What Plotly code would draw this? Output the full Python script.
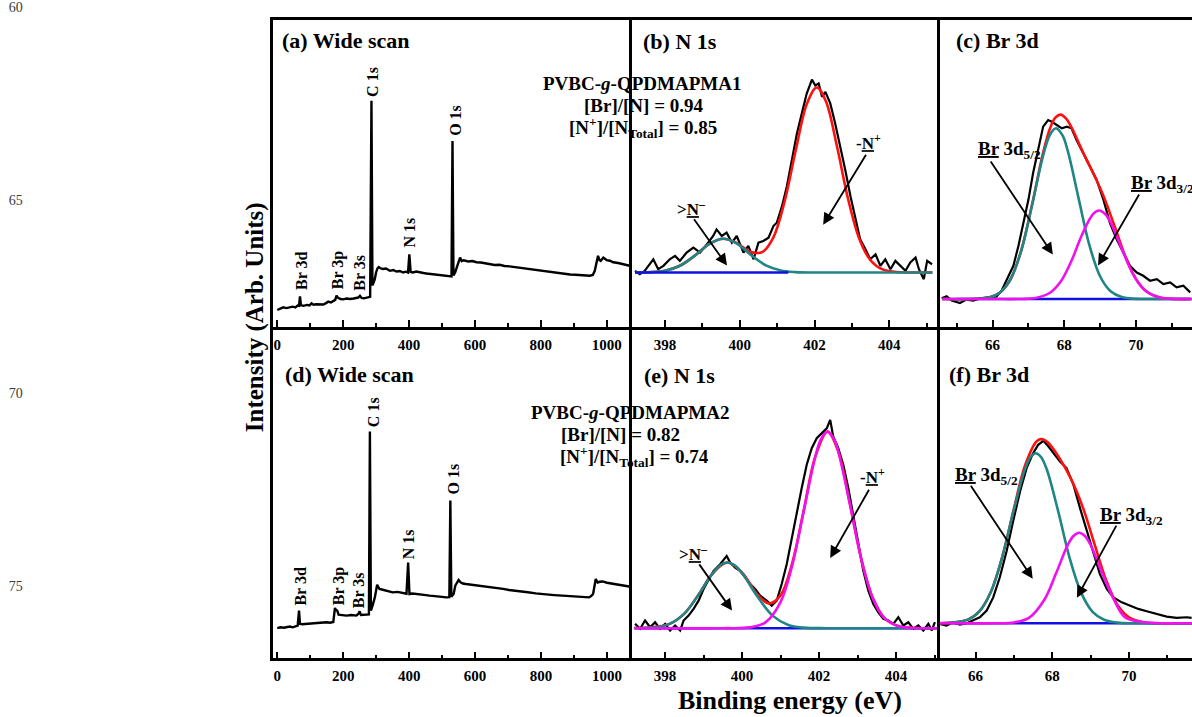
import plotly.graph_objects as go

W, H = 1192, 717
SERIF = "Liberation Serif"

# ---------------------------------------------------------------- data
# (a) survey scan, PVBC-g-QPDMAPMA1  (binding energy in eV, intensity in arb. units)
survey1_be = [
    0, 8, 18, 28, 38, 47, 55, 62, 66, 69,
    72, 80, 90, 98, 104, 110, 118, 130, 140, 148,
    155, 163, 170, 176, 180, 185, 192, 200, 210, 221,
    232, 240, 246, 251, 256, 263, 270, 277, 282, 286,
    289, 292, 296, 300, 304, 308, 312, 320, 330, 342,
    352, 362, 372, 382, 390, 397, 401, 405, 412, 422,
    432, 444, 453, 465, 478, 490, 504, 515, 524, 529,
    532, 535, 540, 547, 551, 555, 560, 565, 572, 580,
    592, 605, 618, 630, 645, 660, 675, 690, 705, 720,
    737, 752, 770, 788, 808, 828, 850, 870, 889, 905,
    920, 935, 949, 958, 964, 970, 974, 978, 982, 990,
    1000, 1010, 1020, 1035, 1050, 1063, 1076,
]
survey1_int = [
    17.3, 18.5, 20, 19.2, 20, 20.6, 19.8, 21.7, 21.5, 31,
    22, 21.5, 22.4, 21.8, 24, 22.6, 23, 23.3, 22.8, 24.2,
    25.7, 24.8, 26, 27.5, 31.7, 29.5, 28.3, 28, 28.8, 28.3,
    28.9, 29.2, 29.8, 31.5, 29.4, 29, 29.6, 30.2, 30.5, 227.7,
    42, 44.5, 48, 55, 59, 60.5, 59.5, 58.5, 59, 56.7,
    57.5, 56, 56.5, 55, 55.8, 55, 73.3, 55.5, 55, 56,
    55, 54.5, 54, 53.5, 53, 52.5, 51.7, 51.2, 50.5, 51,
    187.3, 52, 55, 63.3, 67, 70, 66.5, 67.3, 66.8, 66,
    66.5, 65.3, 65, 64.2, 63.8, 62.5, 62.8, 61.5, 61.2, 60.5,
    59.7, 59.2, 58.3, 57.5, 56.3, 55.8, 54.6, 54, 53, 52.8,
    52.3, 52, 51.7, 52.5, 56.7, 66, 71.7, 67.5, 66.7, 70,
    67.5, 66.8, 65.3, 64.5, 63.2, 62.5, 61.3,
]

# (d) survey scan, PVBC-g-QPDMAPMA2
survey2_be = [
    0, 10, 20, 30, 38, 47, 55, 62, 66, 69,
    75, 90, 100, 109, 120, 130, 140, 150, 160, 170,
    175, 178, 182, 186, 195, 210, 225, 240, 246, 250,
    254, 262, 273, 278, 281, 284, 290, 296, 303, 310,
    320, 330, 340, 350, 365, 380, 392, 397, 401, 410,
    430, 445, 462, 477, 490, 500, 512, 522, 525, 528,
    535, 540, 545, 550, 556, 563, 572, 585, 600, 615,
    633, 650, 670, 685, 703, 720, 740, 760, 784, 800,
    820, 840, 865, 885, 905, 925, 946, 952, 958, 966,
    972, 978, 987, 1000, 1013, 1027, 1040, 1050, 1062, 1072,
]
survey2_int = [
    29.3, 30.2, 29.8, 30.6, 31, 30.2, 31.5, 32, 47, 33.7,
    33.2, 33.5, 34.1, 34.3, 33.9, 34.5, 35, 35.3, 34.8, 35.5,
    49.7, 47.5, 47, 43, 42.4, 42, 42.6, 42, 43.5, 46.3,
    42.5, 42.8, 43, 43.2, 227, 47, 53, 60.3, 73, 68.7,
    68, 67, 66.2, 65.3, 65.8, 64.5, 64, 95.3, 63.7, 64.2,
    63, 62.8, 62, 61.8, 61, 60.8, 60.3, 60.5, 157.7, 61,
    63.7, 72, 75, 77.7, 75.5, 74.2, 73.7, 73.2, 72.5, 71.6,
    71, 70.4, 69.5, 68.8, 67.7, 67.2, 66, 65.4, 64.3, 64,
    63, 62.6, 62, 61.5, 61, 60.8, 60.3, 61.5, 63.7, 78.7,
    75.3, 76, 76.3, 75, 74.2, 73, 72.4, 72, 71.5, 71,
]
survey_peaks = ["Br 3d", "Br 3p", "Br 3s", "C 1s", "N 1s", "O 1s"]

# (b) N 1s, PVBC-g-QPDMAPMA1
n1_be = [
    397.2, 397.33, 397.46, 397.69, 397.82, 397.96, 398.13, 398.27, 398.4, 398.58,
    398.76, 398.94, 399.12, 399.29, 399.38, 399.52, 399.65, 399.79, 399.92, 400.1,
    400.23, 400.37, 400.5, 400.63, 400.77, 400.9, 400.99, 401.13, 401.26, 401.39,
    401.53, 401.66, 401.79, 401.93, 402.02, 402.11, 402.2, 402.29, 402.42, 402.55,
    402.69, 402.82, 402.96, 403.09, 403.22, 403.36, 403.49, 403.63, 403.76, 403.89,
    404.03, 404.16, 404.29, 404.43, 404.56, 404.7, 404.79, 404.92, 405.01, 405.14,
]
n1_int = [
    56.7, 53.3, 56.7, 68.3, 58.3, 61.7, 68.3, 71.7, 66.7, 75,
    80, 75, 83.3, 91.7, 98.3, 91.7, 95, 85, 91.7, 75,
    81.7, 68.3, 85, 86.7, 90, 101.7, 105, 121.7, 141.7, 168.3,
    195, 215, 235, 249, 243, 245, 231.7, 236.7, 225, 205,
    181.7, 158.3, 131.7, 108.3, 88.3, 78.3, 68.3, 73.3, 61.7, 68.3,
    58.3, 66.7, 61.7, 56.7, 65, 70, 58.3, 48.3, 66.7, 63.3,
]
n1_amine_be = [397.2, 397.6, 398.0, 398.4, 398.8, 399.2, 399.56, 399.9,
               400.3, 400.7, 401.1, 401.5, 402.0, 403.0, 404.0, 405.15]
n1_amine_fit = [55.0, 55.3, 56.8, 61.8, 72.0, 84.1, 89.0, 84.6,
                72.6, 62.1, 57.0, 55.4, 55.0, 55.0, 55.0, 55.0]
n1_env_be = [397.2, 398.0, 398.4, 398.8, 399.2, 399.56, 399.9, 400.3, 400.6,
             400.9, 401.2, 401.5, 401.8, 402.06, 402.3, 402.6, 402.9, 403.2,
             403.5, 403.8, 404.2, 404.5, 405.15]
n1_env_fit = [55.0, 56.8, 61.8, 72.0, 84.1, 89.0, 85.0, 75.7, 75.5,
              90.4, 126.6, 178.4, 225.3, 241.0, 227.4, 181.7, 128.4, 88.5,
              67.1, 58.4, 55.5, 55.0, 55.0]
n1_bg_be = [397.2, 401.3]
n1_bg = [55.0, 55.0]

# (c) Br 3d, PVBC-g-QPDMAPMA1
br1_be = [
    64.58, 64.72, 64.86, 65.09, 65.27, 65.46, 65.65, 65.88, 66.11, 66.25,
    66.39, 66.58, 66.72, 66.86, 67.0, 67.13, 67.27, 67.41, 67.55, 67.65,
    67.79, 67.93, 68.07, 68.2, 68.34, 68.53, 68.72, 68.9, 69.09, 69.27,
    69.46, 69.65, 69.83, 70.02, 70.2, 70.39, 70.58, 70.76, 70.95, 71.13,
    71.32, 71.51,
]
br1_int = [
    29, 31, 26.7, 24.3, 27.7, 26.7, 29, 30, 31, 36.7,
    46.7, 61.7, 81.7, 105, 128.3, 155, 178.3, 201.7, 208.3, 206.7,
    203.3, 200, 201.7, 200, 188.3, 175, 161.7, 148.3, 128.3, 105,
    88.3, 75, 61.7, 55, 51.7, 46.7, 48.3, 43.3, 45, 40,
    41.7, 35,
]
br1_d52_be = [64.6, 65.4, 65.9, 66.2, 66.5, 66.8, 67.1, 67.4, 67.6, 67.77,
              67.95, 68.1, 68.4, 68.7, 69.0, 69.3, 69.6, 70.0, 70.5, 71.55]
br1_d52_fit = [28.3, 28.4, 29.9, 34.7, 48.2, 77.1, 122.6, 171.3, 193.5, 200.0,
               192.8, 176.7, 129.3, 82.4, 51.0, 35.8, 30.3, 28.5, 28.3, 28.3]
br1_d32_be = [64.6, 66.0, 66.8, 67.2, 67.6, 67.9, 68.2, 68.5, 68.8, 68.97,
              69.15, 69.3, 69.6, 69.9, 70.2, 70.6, 71.0, 71.55]
br1_d32_fit = [28.3, 28.3, 28.4, 29.4, 34.6, 45.9, 66.8, 93.4, 113.7, 117.3,
               113.3, 104.6, 79.0, 54.5, 38.8, 30.4, 28.6, 28.3]
br1_env_be = [64.6, 65.9, 66.2, 66.5, 66.8, 67.1, 67.4, 67.6, 67.75, 67.9,
              68.05, 68.2, 68.5, 68.8, 69.1, 69.4, 69.7, 70.0, 70.3, 70.7,
              71.1, 71.55]
br1_env_fit = [28.3, 29.9, 34.7, 48.2, 77.2, 123.2, 174.0, 199.8, 210.7, 213.8,
               209.8, 200.9, 177.6, 155.3, 131.3, 101.7, 71.3, 48.3, 35.6, 29.6,
               28.4, 28.3]
br1_bg_be = [64.98, 71.5]
br1_bg = [28.3, 28.3]

# (e) N 1s, PVBC-g-QPDMAPMA2
n2_be = [
    397.22, 397.35, 397.48, 397.61, 397.74, 397.87, 398.0, 398.13, 398.26, 398.39,
    398.48, 398.61, 398.74, 398.87, 399.0, 399.13, 399.26, 399.43, 399.6, 399.69,
    399.82, 399.95, 400.08, 400.21, 400.34, 400.47, 400.64, 400.77, 400.9, 401.03,
    401.16, 401.29, 401.42, 401.55, 401.68, 401.81, 401.94, 402.07, 402.2, 402.29,
    402.37, 402.5, 402.63, 402.76, 402.89, 403.02, 403.15, 403.28, 403.41, 403.54,
    403.67, 403.8, 403.93, 404.06, 404.19, 404.32, 404.45, 404.58, 404.71, 404.84,
    404.93, 405.01,
]
n2_int = [
    33.7, 28.7, 37, 30.3, 35.3, 28.7, 33.7, 27, 32, 27,
    37, 42, 48.7, 57, 68.7, 78.7, 87, 93.7, 102, 95.3,
    90.3, 87, 80.3, 73.7, 68.7, 62, 57, 52, 57, 73.7,
    93.7, 120.3, 147, 170.3, 193.7, 210.3, 220.3, 225.3, 230.3, 238.7,
    222, 210.3, 193.7, 170.3, 143.7, 113.7, 87, 67, 53.7, 45.3,
    38.7, 37, 33.7, 40.3, 32, 35.3, 28.7, 32, 27, 33.7,
    27, 35.3,
]
n2_amine_be = [397.2, 397.7, 398.1, 398.5, 398.9, 399.2, 399.45, 399.62, 399.8,
               400.0, 400.4, 400.8, 401.2, 401.6, 402.2, 403.0, 404.0, 405.1]
n2_amine_fit = [29.4, 30.1, 33.4, 44.0, 64.8, 82.7, 93.1, 95.3, 92.8,
                84.8, 61.1, 41.7, 32.6, 29.9, 29.3, 29.3, 29.3, 29.3]
n2_quat_be = [397.2, 399.5, 400.2, 400.6, 401.0, 401.3, 401.6, 401.9, 402.05,
              402.22, 402.4, 402.5, 402.8, 403.1, 403.4, 403.7, 404.1, 404.5, 405.1]
n2_quat_fit = [29.3, 29.3, 30.1, 34.9, 55.6, 92.0, 146.7, 201.3, 219.5,
               227.0, 218.5, 207.0, 154.6, 98.5, 59.3, 39.5, 30.9, 29.5, 29.3]
n2_env_be = [397.2, 398.1, 398.5, 398.9, 399.2, 399.62, 400.0, 400.4, 400.7,
             401.0, 401.3, 401.6, 401.9, 402.22, 402.5, 402.8, 403.1, 403.4,
             403.7, 404.1, 404.5, 405.1]
n2_env_fit = [29.4, 33.4, 44.0, 64.8, 82.7, 95.3, 85.1, 63.3, 54.2,
              62.3, 94.2, 147.3, 201.4, 227.0, 207.0, 154.6, 98.5, 59.3,
              39.5, 30.9, 29.5, 29.3]
n2_bg_be = [397.3, 405.0]
n2_bg = [29.3, 29.3]

# (f) Br 3d, PVBC-g-QPDMAPMA2
br2_be = [
    65.07, 65.24, 65.42, 65.59, 65.77, 65.94, 66.11, 66.29, 66.46, 66.63,
    66.81, 66.98, 67.16, 67.33, 67.5, 67.63, 67.77, 67.9, 68.03, 68.2,
    68.37, 68.55, 68.72, 68.9, 69.07, 69.24, 69.42, 69.59, 69.81, 70.03,
    70.24, 70.46, 70.72, 70.98, 71.24, 71.5, 71.63,
]
br2_int = [
    33.7, 32, 35.3, 33, 34.3, 37, 40.3, 47, 60.3, 80.3,
    107, 137, 167, 190.3, 205.3, 213.7, 217.7, 212, 205.3, 197,
    190.3, 173.7, 150.3, 127, 103.7, 83.7, 68.7, 60.3, 55.3, 52,
    48.7, 46.3, 43.7, 41, 39.7, 40.3, 39.7,
]
br2_d52_be = [65.07, 65.8, 66.1, 66.4, 66.7, 67.0, 67.3, 67.45, 67.57, 67.7,
              67.85, 68.15, 68.45, 68.75, 69.05, 69.35, 69.7, 70.2, 71.65]
br2_d52_fit = [34.3, 37.9, 46.2, 65.9, 101.6, 148.8, 190.6, 202.3, 205.3, 201.7,
               189.6, 147.3, 100.1, 65.1, 45.8, 37.8, 34.9, 34.3, 34.3]
br2_d32_be = [65.07, 66.5, 67.0, 67.4, 67.8, 68.1, 68.4, 68.55, 68.7, 68.85,
              69.0, 69.3, 69.6, 69.9, 70.3, 70.8, 71.65]
br2_d32_fit = [34.3, 34.3, 35.1, 40.0, 58.4, 84.7, 112.8, 122.0, 125.3, 122.0,
               112.8, 84.7, 58.4, 40.0, 35.7, 34.3, 34.3]
br2_env_be = [65.07, 65.8, 66.1, 66.4, 66.7, 67.0, 67.3, 67.6, 67.75, 67.9,
              68.2, 68.5, 68.8, 69.1, 69.4, 69.7, 70.0, 70.4, 70.9, 71.65]
br2_env_fit = [34.3, 37.9, 46.2, 65.9, 101.6, 149.6, 194.2, 217.6, 219.3, 215.6,
               199.5, 178.4, 150.3, 113.9, 77.8, 52.6, 40.1, 35.1, 34.3, 34.3]
br2_bg_be = [65.37, 71.63]
br2_bg = [34.3, 34.3]

# composition ratios printed in the N 1s panels
samples = ["PVBC-<i>g</i>-QPDMAPMA1", "PVBC-<i>g</i>-QPDMAPMA2"]
br_n_ratio = [0.94, 0.82]
quat_ratio = [0.85, 0.74]

# stray scale printed down the left margin
side_ticks = [60, 65, 70, 75]

# ---------------------------------------------------------------- styling
BLACK = "#000000"
RED = "#ff1010"
TEAL = "#1f8585"
MAGENTA = "#f010f0"
BLUE = "#1010e0"


def fx(px):
    return px / W


def fy(py):
    return 1 - py / H


fig = go.Figure()


def line(n, x, y, color, width, shape="linear"):
    sfx = "" if n == 1 else str(n)
    fig.add_trace(go.Scatter(
        x=x, y=y, xaxis="x" + sfx, yaxis="y" + sfx, mode="lines",
        line=dict(color=color, width=width, shape=shape),
        hoverinfo="skip", showlegend=False))


# survey spectra
line(1, survey1_be, survey1_int, BLACK, 2.4)
line(4, survey2_be, survey2_int, BLACK, 2.4)

# N 1s, sample 1
line(2, n1_be, n1_int, BLACK, 2.2)
line(2, n1_env_be, n1_env_fit, RED, 2.6, "spline")
line(2, n1_amine_be, n1_amine_fit, TEAL, 2.6, "spline")
line(2, n1_bg_be, n1_bg, BLUE, 2.4)

# Br 3d, sample 1
line(3, br1_be, br1_int, BLACK, 2.2)
line(3, br1_env_be, br1_env_fit, RED, 2.6, "spline")
line(3, br1_bg_be, br1_bg, BLUE, 2.4)
line(3, br1_d52_be, br1_d52_fit, TEAL, 2.6, "spline")
line(3, br1_d32_be, br1_d32_fit, MAGENTA, 2.6, "spline")

# N 1s, sample 2
line(5, n2_be, n2_int, BLACK, 2.2)
line(5, n2_env_be, n2_env_fit, RED, 2.6, "spline")
line(5, n2_bg_be, n2_bg, BLUE, 2.4)
line(5, n2_amine_be, n2_amine_fit, TEAL, 2.6, "spline")
line(5, n2_quat_be, n2_quat_fit, MAGENTA, 2.6, "spline")

# Br 3d, sample 2
line(6, br2_be, br2_int, BLACK, 2.2)
line(6, br2_env_be, br2_env_fit, RED, 2.6, "spline")
line(6, br2_bg_be, br2_bg, BLUE, 2.4)
line(6, br2_d52_be, br2_d52_fit, TEAL, 2.6, "spline")
line(6, br2_d32_be, br2_d32_fit, MAGENTA, 2.6, "spline")

# invisible anchor for the margin scale
fig.add_trace(go.Scatter(x=[0], y=[side_ticks[0]], xaxis="x7", yaxis="y7",
                         mode="markers", marker=dict(opacity=0),
                         hoverinfo="skip", showlegend=False))

# panel geometry in pixels: x0, x1, y0(top), y1(bottom)
TOP, MID, BOT = 15.7, 325.0, 658.0
XA, XB, XC, XR = 273.3, 632.0, 939.5, 1192.0
panels = {
    1: dict(box=(XA, XB, TOP, MID), xr=[-12, 1077], yr=[0, MID - TOP], dt=200, mdt=100),
    2: dict(box=(XB, XC, TOP, MID), xr=[397.12, 405.34], yr=[0, MID - TOP], dt=2, mdt=1),
    3: dict(box=(XC, XR, TOP, MID), xr=[64.52, 71.56], yr=[0, MID - TOP], dt=2, mdt=1),
    4: dict(box=(XA, XB, MID, BOT), xr=[-12, 1076], yr=[-1, 332], dt=200, mdt=100),
    5: dict(box=(XB, XC, MID, BOT), xr=[397.14, 405.13], yr=[-1, 332], dt=2, mdt=1),
    6: dict(box=(XC, XR, MID, BOT), xr=[65.06, 71.64], yr=[-1, 332], dt=2, mdt=1),
}

tickfont = dict(family=SERIF, size=15, color=BLACK, weight="bold")
layout_axes = {}
for n, p in panels.items():
    x0, x1, y0, y1 = p["box"]
    sfx = "" if n == 1 else str(n)
    layout_axes["xaxis" + sfx] = dict(
        domain=[fx(x0), fx(x1)], range=p["xr"], anchor="y" + sfx,
        showline=True, linewidth=2.5, linecolor=BLACK, mirror=(y0 == TOP),
        ticks="inside", ticklen=7, tickwidth=2, tickcolor=BLACK,
        tick0=0, dtick=p["dt"], tickfont=tickfont, ticklabelstandoff=2,
        minor=dict(ticks="inside", ticklen=4, tickwidth=2, tickcolor=BLACK,
                   tick0=0, dtick=p["mdt"]),
        showgrid=False, zeroline=False, fixedrange=True)
    # each panel draws only its left edge; the neighbour's left edge closes it
    layout_axes["yaxis" + sfx] = dict(
        domain=[fy(y1), fy(y0)], range=p["yr"], anchor="x" + sfx,
        showline=True, linewidth=2.5, linecolor=BLACK, mirror=False,
        ticks="", showticklabels=False, showgrid=False, zeroline=False,
        fixedrange=True)

# margin scale: 60 sits at y=3 px and each 5 units span 194 px
side_span = 194.0 / 5
layout_axes["xaxis7"] = dict(domain=[0.02, 0.021], visible=False, range=[-1, 1])
layout_axes["yaxis7"] = dict(
    domain=[0, 1], anchor="x7", side="left",
    range=[side_ticks[0] + (H - 3) / side_span, side_ticks[0] - 3 / side_span],
    tickvals=side_ticks, ticks="", showline=False, showgrid=False,
    zeroline=False, ticklabeloverflow="allow",
    tickfont=dict(family=SERIF, size=14, color="#3a3a3a"))

# ---------------------------------------------------------------- annotations
ann = []


def text(x, y, s, size, xref="paper", yref="paper", xanchor="center",
         yanchor="middle", angle=0):
    ann.append(dict(x=x, y=y, xref=xref, yref=yref, text=s, showarrow=False,
                    xanchor=xanchor, yanchor=yanchor, textangle=angle,
                    font=dict(family=SERIF, size=size, color=BLACK, weight="bold")))


def arrow(n, tail, head):
    sfx = "" if n == 1 else str(n)
    ann.append(dict(x=head[0], y=head[1], ax=tail[0], ay=tail[1],
                    xref="x" + sfx, yref="y" + sfx, axref="x" + sfx, ayref="y" + sfx,
                    text="", showarrow=True, arrowhead=2, arrowsize=1.3,
                    arrowwidth=1.8, arrowcolor=BLACK, standoff=0, startstandoff=0))


# panel titles
for s, x, y in [("(a) Wide scan", 280, 37), ("(b) N 1s", 641, 37.5), ("(c) Br 3d", 954, 37),
                ("(d) Wide scan", 282.5, 372.5), ("(e) N 1s", 641.5, 374), ("(f) Br 3d", 947, 372.5)]:
    text(fx(x), fy(y), s, 22, xanchor="left")

# survey peak labels (vertical), placed just above each line
survey_label_pos = {
    1: {"Br 3d": (74, 35), "Br 3p": (187, 36), "Br 3s": (249, 35),
        "C 1s": (289, 230), "N 1s": (403, 78), "O 1s": (543, 190)},
    4: {"Br 3d": (72, 50), "Br 3p": (186, 50), "Br 3s": (247, 47),
        "C 1s": (292, 229), "N 1s": (398, 97), "O 1s": (535, 162)},
}
for n, pos in survey_label_pos.items():
    sfx = "" if n == 1 else str(n)
    for name in survey_peaks:
        x, y = pos[name]
        text(x, y, name, 16, xref="x" + sfx, yref="y" + sfx,
             yanchor="bottom", angle=-90)

# sample composition blocks
blocks = [((642, 80), (643, 102), (642.5, 124)), ((630, 411), (620, 432.5), (634, 455.5))]
for i, (l1, l2, l3) in enumerate(blocks):
    text(fx(l1[0]), fy(l1[1]), samples[i], 19)
    text(fx(l2[0]), fy(l2[1]), f"[Br]/[N] = {br_n_ratio[i]:.2f}", 19)
    text(fx(l3[0]), fy(l3[1]),
         f"[N<sup>+</sup>]/[N<sub>Total</sub>] = {quat_ratio[i]:.2f}", 19)

# component labels with pointers
AMINE = "&gt;<u>N</u><sup>\u2013</sup>"
QUAT = "-<u>N</u><sup>+</sup>"
D52 = "<u>Br</u> 3d<sub>5/2</sub>"
D32 = "<u>Br</u> 3d<sub>3/2</sub>"

text(398.72, 120, AMINE, 17, xref="x2", yref="y2")
arrow(2, (398.75, 110), (399.66, 62))
text(403.43, 186, QUAT, 17, xref="x2", yref="y2")
arrow(2, (403.40, 175), (402.23, 103))

text(66.48, 178, D52, 19, xref="x3", yref="y3")
arrow(3, (65.92, 168), (67.68, 73))
text(69.8, 144, D32, 19, xref="x3", yref="y3", xanchor="left")
arrow(3, (70.11, 135), (68.94, 62))

text(398.75, 105, AMINE, 17, xref="x5", yref="y5")
arrow(5, (398.86, 95), (399.74, 47))
text(403.38, 182, QUAT, 17, xref="x5", yref="y5")
arrow(5, (403.32, 170), (402.29, 100))

text(66.29, 182, D52, 19, xref="x6", yref="y6")
arrow(6, (65.85, 174), (67.49, 79))
text(69.2, 142, D32, 19, xref="x6", yref="y6", xanchor="left")
arrow(6, (69.69, 134), (68.64, 60))

# shared axis titles
text(fx(255), fy(315), "Intensity (Arb. Units)", 25, angle=-90)
text(fx(790), fy(700), "Binding energy (eV)", 26)

fig.update_layout(
    width=W, height=H, margin=dict(l=0, r=0, t=0, b=0),
    paper_bgcolor="white", plot_bgcolor="white", showlegend=False,
    font=dict(family=SERIF, color=BLACK),
    annotations=ann, **layout_axes)

fig.write_html("out.html")
